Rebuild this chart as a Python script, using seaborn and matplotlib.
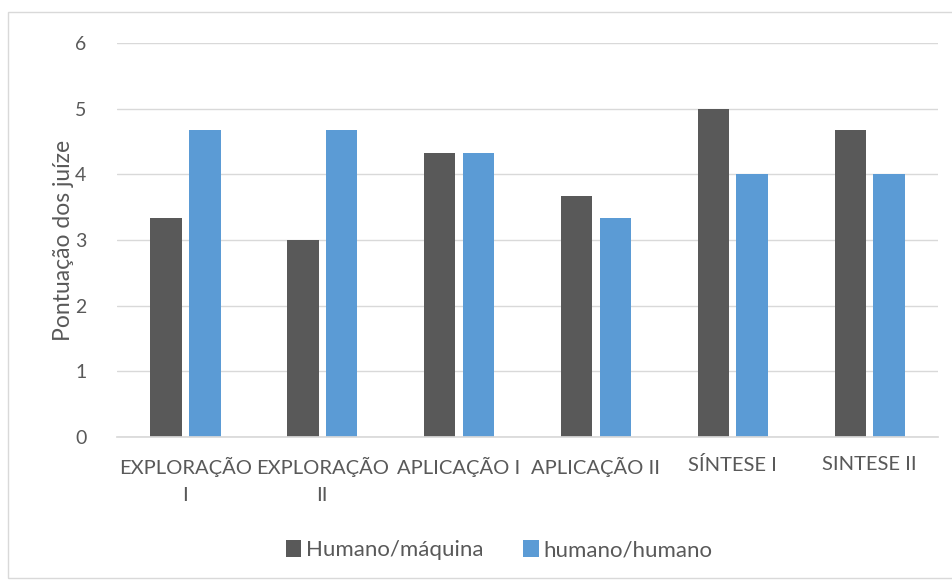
import matplotlib
matplotlib.use("Agg")
import matplotlib.pyplot as plt
import seaborn as sns
import pandas as pd
from matplotlib.patches import Rectangle

categories = ["EXPLORAÇÃO\nI", "EXPLORAÇÃO\nII", "APLICAÇÃO I", "APLICAÇÃO II", "SÍNTESE I", "SINTESE II"]
series_names = ["Humano/máquina", "humano/humano"]
humano_maquina = [3.33, 3.0, 4.33, 3.67, 5.0, 4.67]
humano_humano = [4.67, 4.67, 4.33, 3.33, 4.0, 4.0]
yticks = [0, 1, 2, 3, 4, 5, 6]

df = pd.DataFrame({
    "categoria": categories * 2,
    "serie": [series_names[0]] * len(categories) + [series_names[1]] * len(categories),
    "valor": humano_maquina + humano_humano,
})

sns.set_theme(style="white")
plt.rcParams["font.family"] = ["Lato", "DejaVu Sans"]

fig = plt.figure(figsize=(9.53, 5.81), dpi=100)
ax = fig.add_axes([0.1228, 0.2478, 0.8615, 0.6782])

palette = {series_names[0]: "#595959", series_names[1]: "#5b9bd5"}
sns.barplot(data=df, x="categoria", y="valor", hue="serie", order=categories,
            hue_order=series_names, palette=palette, width=0.567, gap=0.19,
            saturation=1, ax=ax, legend=True)
for p in ax.patches:
    p.set_edgecolor("none")

ax.set_ylim(0, 6)
ax.set_xlim(-0.5, len(categories) - 0.5)
ax.set_yticks(yticks)
ax.yaxis.grid(True, color="#d9d9d9", linewidth=1)
ax.set_axisbelow(True)
for s in ["top", "right", "left"]:
    ax.spines[s].set_visible(False)
ax.spines["bottom"].set_color("#d9d9d9")
ax.tick_params(axis="both", length=0, colors="#595959")
ax.tick_params(axis="y", pad=22, labelsize=14)
ax.tick_params(axis="x", pad=14, labelsize=14.5)
for t in ax.get_xticklabels():
    t.set_linespacing(1.75)
ax.set_xlabel("")
ax.set_ylabel("Pontuação dos juíze", color="#595959", fontsize=16.5, labelpad=8)
ax.yaxis.set_label_coords(-0.053, 0.5)

leg = ax.legend(loc="center", bbox_to_anchor=(0.465, -0.287), ncol=2, frameon=False,
                fontsize=16, handlelength=0.7, handleheight=0.8, handletextpad=0.2,
                columnspacing=1.8, labelcolor="#595959")

fig.patches.append(Rectangle((8 / 953, 0.005), 1.0, 1 - 12 / 581 - 0.005,
                             transform=fig.transFigure, fill=False,
                             edgecolor="#d9d9d9", linewidth=1))

fig.savefig("out.png", dpi=100, facecolor="white")
